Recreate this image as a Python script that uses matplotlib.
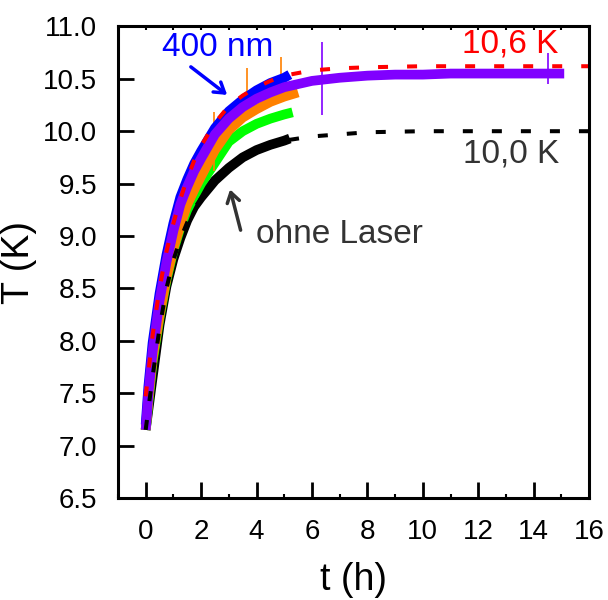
import matplotlib
matplotlib.use("Agg")
import matplotlib.pyplot as plt
from matplotlib.ticker import MultipleLocator

plt.rcParams['font.family'] = ['Liberation Sans', 'DejaVu Sans']

# ---- data ----
t_fit = [0, 0.25, 0.5, 0.75, 1, 1.25, 1.5, 1.75, 2, 2.5, 3, 3.5, 4, 4.5, 5, 6, 7, 8, 10, 12, 14, 16]
fit_red = [7.47, 8.05, 8.50, 8.85, 9.12, 9.35, 9.55, 9.72, 9.86, 10.08, 10.24, 10.34, 10.42, 10.48, 10.53,
           10.58, 10.60, 10.61, 10.62, 10.62, 10.62, 10.62]
fit_black = [7.15, 7.66, 8.12, 8.50, 8.77, 8.97, 9.13, 9.26, 9.36, 9.52, 9.64, 9.74, 9.81, 9.87, 9.91,
             9.95, 9.97, 9.99, 10.0, 10.0, 10.0, 10.0]

t_short = [0, 0.1, 0.25, 0.5, 0.75, 1, 1.25, 1.5, 1.75, 2, 2.5, 3, 3.5, 4, 4.5, 5]
T_black = [7.15, 7.35, 7.65, 8.15, 8.52, 8.78, 8.98, 9.15, 9.28, 9.37, 9.53, 9.65, 9.75, 9.82, 9.87, 9.91]
T_green = [7.15, 7.42, 7.80, 8.22, 8.58, 8.86, 9.08, 9.25, 9.38, 9.50, 9.70, 9.90, 10.00, 10.07, 10.12, 10.16]
T_orange = [7.15, 7.45, 7.83, 8.24, 8.60, 8.88, 9.10, 9.30, 9.44, 9.57, 9.82, 10.01, 10.13, 10.21, 10.28, 10.33]
T_blue = [7.20, 7.57, 7.98, 8.45, 8.82, 9.12, 9.37, 9.54, 9.69, 9.81, 10.03, 10.19, 10.30, 10.39, 10.46, 10.51]
end_black, end_black_T = 5.2, 9.93
end_green, end_green_T = 5.3, 10.18
end_orange, end_orange_T = 5.5, 10.37
end_blue, end_blue_T = 5.2, 10.54

t_purple = [0, 0.1, 0.25, 0.5, 0.75, 1, 1.25, 1.5, 1.75, 2, 2.5, 3, 3.5, 4, 4.5, 5, 5.5, 6, 7, 8,
            9, 10, 11, 12, 13, 14, 15.1]
T_purple = [7.15, 7.50, 7.90, 8.38, 8.75, 9.05, 9.30, 9.47, 9.62, 9.74, 9.97, 10.12, 10.23, 10.31,
            10.37, 10.42, 10.45, 10.48, 10.51, 10.53, 10.54, 10.54, 10.55, 10.55, 10.55, 10.55, 10.55]

# isolated spikes seen in the noisy traces
spike_orange_t = [2.45, 3.66, 4.87]
spike_orange_lo = [9.62, 10.20, 10.30]
spike_orange_hi = [10.18, 10.60, 10.71]
spike_purple_t = [6.35, 14.5]
spike_purple_lo = [10.15, 10.45]
spike_purple_hi = [10.85, 10.75]

x_ticks = [0, 2, 4, 6, 8, 10, 12, 14, 16]
y_ticks = [6.5, 7.0, 7.5, 8.0, 8.5, 9.0, 9.5, 10.0, 10.5, 11.0]

fig = plt.figure(figsize=(6.08, 6.0), dpi=100)
ax = fig.add_axes([0.194, 0.170, 0.775, 0.786])

band_lw = 7
ax.plot(t_short + [end_black], T_black + [end_black_T], color='black', lw=band_lw, solid_capstyle='butt')
ax.plot(t_short + [end_green], T_green + [end_green_T], color='#00ff00', lw=band_lw, solid_capstyle='butt')
ax.plot(t_short + [end_orange], T_orange + [end_orange_T], color='#ff8000', lw=band_lw, solid_capstyle='butt')
ax.vlines(spike_orange_t, spike_orange_lo, spike_orange_hi, color='#ff8000', lw=1.2)
ax.plot(t_short + [end_blue], T_blue + [end_blue_T], color='#0000ff', lw=band_lw, solid_capstyle='butt')
ax.plot(t_purple, T_purple, color='#8000ff', lw=band_lw, solid_capstyle='butt')
ax.vlines(spike_purple_t, spike_purple_lo, spike_purple_hi, color='#8000ff', lw=1.2)

dlw = 2.9
ax.plot(t_fit, fit_black, color='black', lw=dlw, linestyle=(0, (7.2 / dlw, 13.7 / dlw)))
ax.plot(t_fit, fit_red, color='#ff0000', lw=dlw, linestyle=(0, (7.2 / dlw, 13.7 / dlw)))

ax.set_xlim(-1, 16)
ax.set_ylim(6.5, 11.0)
ax.set_xticks(x_ticks)
ax.set_yticks(y_ticks)
ax.set_yticklabels([f"{v:.1f}" for v in y_ticks])
ax.xaxis.set_minor_locator(MultipleLocator(1))

for s in ax.spines.values():
    s.set_linewidth(2.2)

ax.tick_params(axis='both', which='major', direction='in', length=11.5, width=2.0, labelsize=20)
ax.tick_params(axis='y', which='major', pad=15)
ax.tick_params(axis='x', which='major', pad=15)
ax.tick_params(axis='x', which='minor', direction='in', length=3, width=1.5)
ax.tick_params(axis='y', which='minor', left=False)

top = ax.secondary_xaxis('top')
top.set_xticks(list(range(0, 17)))
top.tick_params(direction='in', length=3, width=1.5, labeltop=False)
top.spines['top'].set_visible(False)

ax.set_xlabel('t (h)', fontsize=27, labelpad=12)
ax.set_ylabel('T (K)', fontsize=27, labelpad=4)

ax.text(0.6, 10.80, '400 nm', color='#0000ff', fontsize=24, ha='left', va='center')
ax.annotate('', xy=(3.02, 10.33), xytext=(1.55, 10.63),
            arrowprops=dict(arrowstyle='->,head_length=0.7,head_width=0.45', color='#0000ff', lw=2.5))
ax.text(11.4, 10.83, '10,6 K', color='#ff0000', fontsize=24, ha='left', va='center')
ax.text(11.45, 9.78, '10,0 K', color='#333333', fontsize=24, ha='left', va='center')
ax.text(3.98, 9.01, 'ohne Laser', color='#333333', fontsize=24, ha='left', va='center')
ax.annotate('', xy=(3.02, 9.47), xytext=(3.45, 9.03),
            arrowprops=dict(arrowstyle='->,head_length=0.7,head_width=0.45', color='#333333', lw=2.5))

fig.savefig('out.png', dpi=100)
